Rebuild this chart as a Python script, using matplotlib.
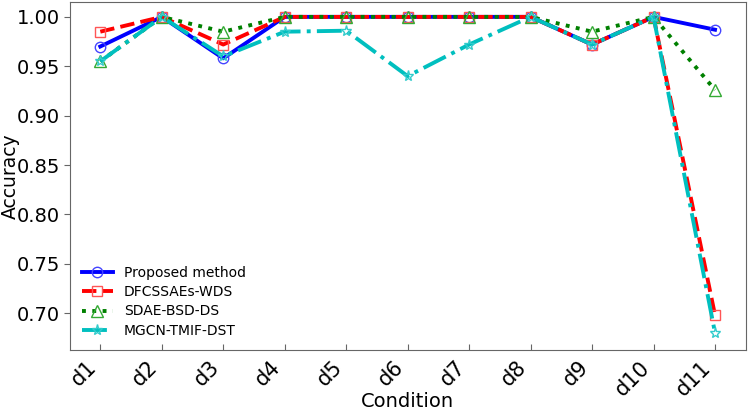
import numpy as np
import matplotlib.pyplot as plt

conditions = ["d1", "d2", "d3", "d4", "d5", "d6", "d7", "d8", "d9", "d10", "d11"]
proposed = [0.970, 1.0, 0.958, 1.0, 1.0, 1.0, 1.0, 1.0, 0.972, 1.0, 0.987]
dfcssaes = [0.985, 1.0, 0.972, 1.0, 1.0, 1.0, 1.0, 1.0, 0.972, 1.0, 0.698]
sdae = [0.955, 1.0, 0.985, 1.0, 1.0, 1.0, 1.0, 1.0, 0.985, 1.0, 0.926]
mgcn = [0.955, 1.0, 0.960, 0.985, 0.986, 0.940, 0.972, 1.0, 0.972, 1.0, 0.680]

x = np.arange(1, len(conditions) + 1)

fig, ax = plt.subplots(figsize=(7.48, 4.12), dpi=100)

ax.plot(x, proposed, "-", color="blue", lw=2.8, marker="o", ms=7.5, mfc="none",
        mec="#4444ff", mew=1, label="Proposed method")
ax.plot(x, dfcssaes, "--", color="red", lw=2.8, marker="s", ms=7.5, mfc="none",
        mec="#ff5555", mew=1, label="DFCSSAEs-WDS")
ax.plot(x, sdae, ":", color="green", lw=2.8, marker="^", ms=8.5, mfc="none",
        mec="#33aa33", mew=1, label="SDAE-BSD-DS")
ax.plot(x, mgcn, "-.", color="c", lw=2.8, marker="*", ms=8, mfc="none",
        mec="#33cccc", mew=1, label="MGCN-TMIF-DST")

ax.set_xlim(0.5, 11.5)
ax.set_ylim(0.6625, 1.015)
ax.set_xticks(x)
ax.set_xticklabels(conditions, rotation=45, ha="right", fontsize=15)
yt = [0.70, 0.75, 0.80, 0.85, 0.90, 0.95, 1.00]
ax.set_yticks(yt)
ax.set_yticklabels(["%.2f" % v for v in yt])
ax.tick_params(axis="y", labelsize=14, direction="out", length=4, pad=3, color="#666666")
ax.tick_params(axis="x", direction="in", length=4, pad=5, color="#666666")
ax.set_xlabel("Condition", fontsize=14)
ax.set_ylabel("Accuracy", fontsize=13.5)
ax.xaxis.set_label_coords(0.5, -0.12)
ax.yaxis.set_label_coords(-0.074, 0.5)
for s in ax.spines.values():
    s.set_color("#666666")

ax.legend(loc="lower left", frameon=False, fontsize=10, labelspacing=0.38,
          handlelength=2.2, bbox_to_anchor=(0.0, 0.0))

plt.subplots_adjust(left=0.093, right=0.997, top=0.995, bottom=0.15)
plt.savefig("out.png")
